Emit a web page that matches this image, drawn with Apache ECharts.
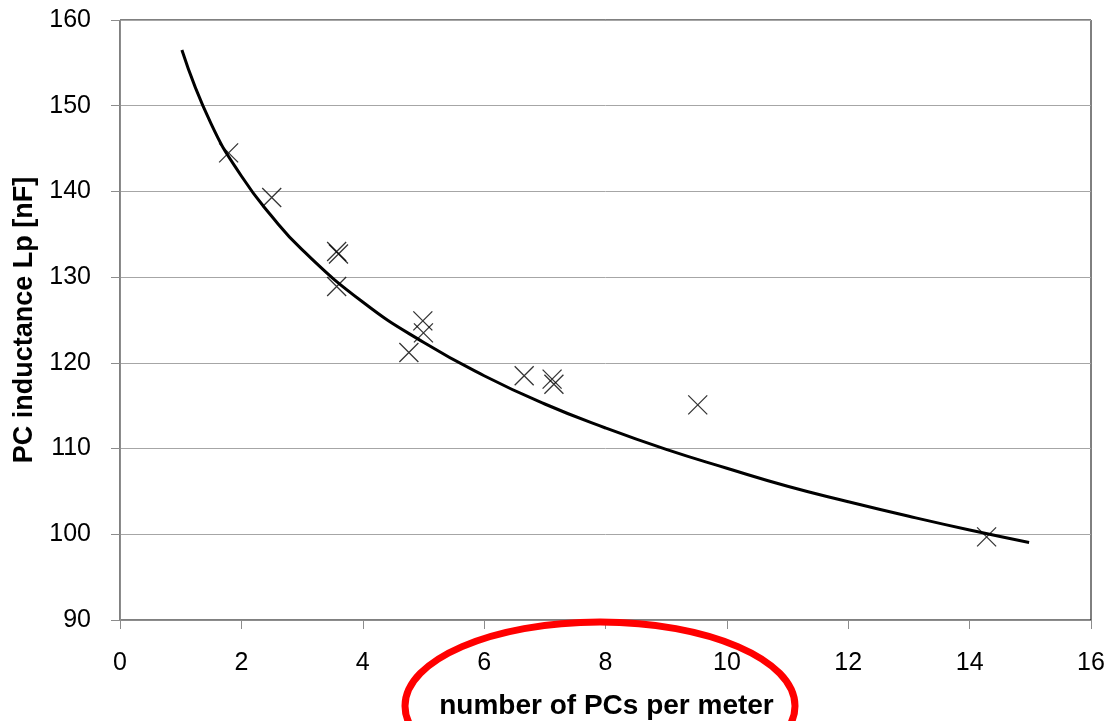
<!DOCTYPE html>
<html>
<head>
<meta charset="utf-8">
<script src="https://cdn.jsdelivr.net/npm/echarts@6/dist/echarts.min.js"></script>
<style>
  html, body { margin: 0; padding: 0; background: #fff; }
  #chart { width: 1107px; height: 721px; }
</style>
</head>
<body>
<div id="chart"></div>
<script>
// Measured samples: PCs per meter vs. PC inductance
const pcsPerMeter = [1.79, 2.50, 3.57, 3.60, 3.57, 4.99, 5.00, 4.76, 6.66, 7.12, 7.15, 9.52, 14.28];
const inductance  = [144.5, 139.3, 133.0, 132.7, 128.9, 124.9, 123.5, 121.2, 118.5, 118.1, 117.5, 115.1, 99.7];

// Trend curve, sampled along its length
const trendX = [1.02, 1.5, 2, 2.5, 3, 4, 5, 6, 7, 8, 9, 10, 11, 12, 13, 14, 14.98];
const trendY = [156.5, 147.9, 141.8, 137.1, 133.2, 127.1, 122.4, 118.5, 115.2, 112.4, 109.9, 107.7, 105.6, 103.8, 102.1, 100.5, 99.05];

const xTicks = { min: 0, max: 16, step: 2 };
const yTicks = { min: 90, max: 160, step: 10 };

const xTitle = 'number of PCs per meter';
const yTitle = 'PC inductance Lp [nF]';

const FONT = 'Arial, "Liberation Sans", sans-serif';

const chart = echarts.init(document.getElementById('chart'), null, { renderer: 'canvas' });

chart.setOption({
  animation: false,
  backgroundColor: '#ffffff',
  grid: {
    left: 120, top: 20, right: 16, bottom: 101,
    containLabel: false,
    outerBoundsMode: 'none',
    show: true, borderColor: '#000', borderWidth: 1, backgroundColor: 'transparent'
  },
  xAxis: {
    type: 'value',
    min: xTicks.min, max: xTicks.max, interval: xTicks.step,
    axisLine: { show: true, onZero: false, lineStyle: { color: '#8c8c8c', width: 1 } },
    axisTick: { show: true, inside: false, length: 9, lineStyle: { color: '#8c8c8c' } },
    axisLabel: { color: '#000', fontSize: 25, fontFamily: FONT, margin: 31 },
    splitLine: { show: false },
    name: xTitle,
    nameLocation: 'middle',
    nameGap: 72,
    nameTextStyle: { color: '#000', fontSize: 28, fontWeight: 'bold', fontFamily: FONT, padding: [0, 0, 0, 2] }
  },
  yAxis: {
    type: 'value',
    min: yTicks.min, max: yTicks.max, interval: yTicks.step,
    axisLine: { show: true, onZero: false, lineStyle: { color: '#8c8c8c', width: 1 } },
    axisTick: { show: true, inside: false, length: 9, lineStyle: { color: '#8c8c8c' } },
    axisLabel: { color: '#000', fontSize: 25, fontFamily: FONT, margin: 29 },
    splitLine: { show: true, lineStyle: { color: '#a6a6a6', width: 1 } },
    name: yTitle,
    nameLocation: 'middle',
    nameGap: 82,
    nameTextStyle: { color: '#000', fontSize: 27, fontWeight: 'bold', fontFamily: FONT }
  },
  series: [
    {
      type: 'line',
      data: trendX.map((x, i) => [x, trendY[i]]),
      smooth: true,
      showSymbol: false,
      symbol: 'none',
      lineStyle: { color: '#000', width: 3 },
      z: 2
    },
    {
      type: 'scatter',
      data: pcsPerMeter.map((x, i) => [x, inductance[i]]),
      symbol: 'path://M0,0L10,10M10,0L0,10',
      symbolSize: 19,
      itemStyle: { color: 'transparent', borderColor: '#000', borderWidth: 1.3 },
      z: 3
    }
  ],
  graphic: [
    {
      type: 'ellipse',
      shape: { cx: 600, cy: 706, rx: 195, ry: 84 },
      style: { fill: 'none', stroke: '#ff0000', lineWidth: 7 },
      z: 100
    }
  ]
});
</script>
</body>
</html>
